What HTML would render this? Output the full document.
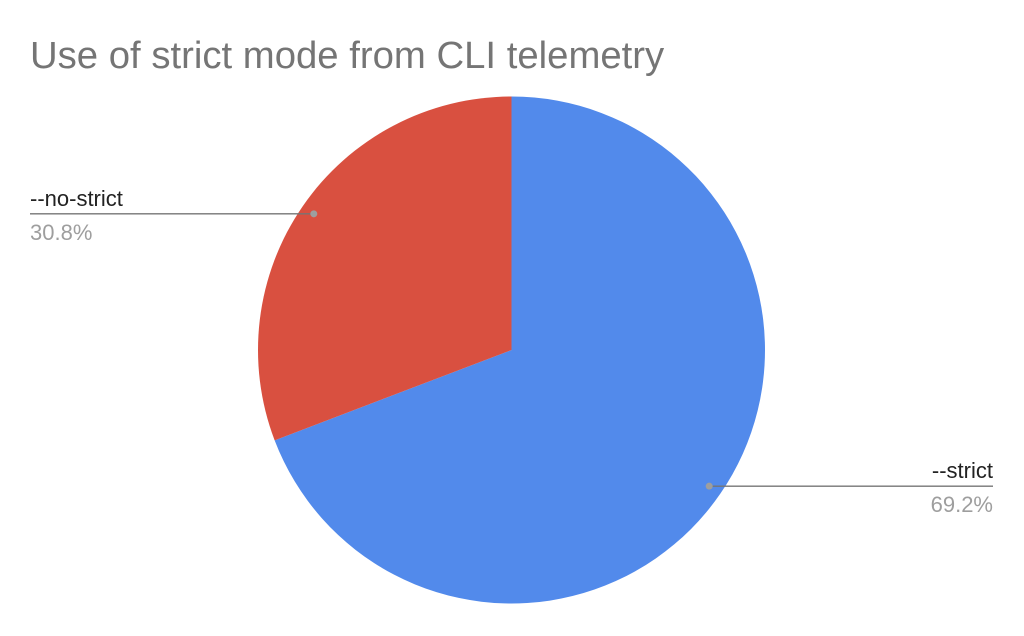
<!DOCTYPE html>
<html><head><meta charset="utf-8"><style>
body{margin:0;background:#fff;width:1024px;height:631px;overflow:hidden;font-family:"Liberation Sans",sans-serif}
</style></head><body>
<svg width="1024" height="631">
<rect x="0" y="0" width="1024" height="631" fill="#fff"/>
<text x="30" y="68" font-size="38.3" fill="#757575">Use of strict mode from CLI telemetry</text>
<g id="slices"></g>
<g id="labels"></g>
</svg>
<script>
const categories=["--strict","--no-strict"];
const values=[69.2,30.8];
const colors=["#528aeb","#d95040"];
const cx=511.5,cy=350,r=253.5;
const total=values.reduce((a,b)=>a+b,0);
const g=document.getElementById('slices');
const lg=document.getElementById('labels');
const ns="http://www.w3.org/2000/svg";
function pt(a,rr){return [cx+rr*Math.sin(a),cy-rr*Math.cos(a)];}
let start=0;
values.forEach((v,i)=>{
  const sweep=v/total*2*Math.PI;const end=start+sweep;
  const [x1,y1]=pt(start,r),[x2,y2]=pt(end,r);
  const p=document.createElementNS(ns,'path');
  p.setAttribute('d',`M${cx},${cy}L${x1},${y1}A${r},${r} 0 ${sweep>Math.PI?1:0} 1 ${x2},${y2}Z`);
  p.setAttribute('fill',colors[i]);
  
  
  g.appendChild(p);
  const mid=start+sweep/2;
  const [dx,dy]=pt(mid,r*0.947);
  const right=Math.sin(mid)>0;
  const lx=right?993:30;
  const ln=document.createElementNS(ns,'polyline');
  ln.setAttribute('points',`${dx},${dy} ${lx},${dy}`);
  ln.setAttribute('stroke','#757575');ln.setAttribute('stroke-width','1.3');ln.setAttribute('fill','none');
  
  
  lg.appendChild(ln);
  const c=document.createElementNS(ns,'circle');
  c.setAttribute('cx',dx);c.setAttribute('cy',dy);c.setAttribute('r','3.5');c.setAttribute('fill','#9e9e9e');
  
  
  lg.appendChild(c);
  const t=document.createElementNS(ns,'text');
  t.setAttribute('x',lx);t.setAttribute('y',dy-8);t.setAttribute('font-size','22');t.setAttribute('fill','#222');
  t.setAttribute('text-anchor',right?'end':'start');t.textContent=categories[i];
  
  
  lg.appendChild(t);
  const t2=document.createElementNS(ns,'text');
  t2.setAttribute('x',lx);t2.setAttribute('y',dy+26);t2.setAttribute('font-size','22');t2.setAttribute('fill','#9e9e9e');
  t2.setAttribute('text-anchor',right?'end':'start');t2.textContent=v.toFixed(1)+'%';
  
  
  lg.appendChild(t2);
  start=end;
});
</script>
</body></html>
